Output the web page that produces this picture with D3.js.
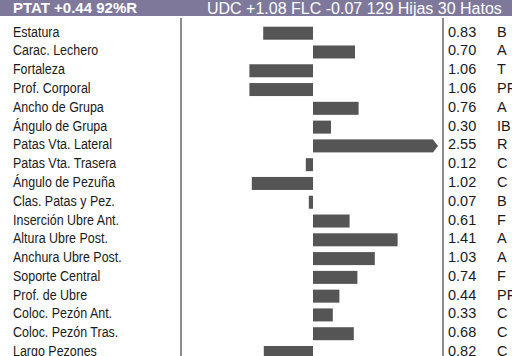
<!DOCTYPE html>
<html>
<head>
<meta charset="utf-8">
<script src="https://cdn.jsdelivr.net/npm/d3@7"></script>
<style>
  html, body { margin: 0; padding: 0; background: #fff; overflow: hidden; }
  svg { display: block; }
</style>
</head>
<body>
<svg id="chart" width="512" height="356"></svg>
<script>
// Linear type traits: signed deviation and classification code
const traits = [
  "Estatura", "Carac. Lechero", "Fortaleza", "Prof. Corporal", "Ancho de Grupa",
  "Ángulo de Grupa", "Patas Vta. Lateral", "Patas Vta. Trasera", "Ángulo de Pezuña",
  "Clas. Patas y Pez.", "Inserción Ubre Ant.", "Altura Ubre Post.", "Anchura Ubre Post.",
  "Soporte Central", "Prof. de Ubre", "Coloc. Pezón Ant.", "Coloc. Pezón Tras.", "Largo Pezones"
];
const values = [
  -0.83, 0.70, -1.06, -1.06, 0.76,
  0.30, 2.55, -0.12, -1.02,
  -0.07, 0.61, 1.41, 1.03,
  0.74, 0.44, 0.33, 0.68, -0.82
];
const codes = [
  "B", "A", "T", "PF", "A",
  "IB", "R", "C", "C",
  "B", "F", "A", "A",
  "F", "PF", "C", "C", "C"
];
const headerBold = "PTAT +0.44 92%R";
const headerRest = "UDC +1.08 FLC -0.07 129 Hijas 30 Hatos";

const W = 512, H = 356;
const svg = d3.select("#chart");
const font = "'Liberation Sans', Arial, Helvetica, sans-serif";
const ink = "#1a1a1a";

// Header band
svg.append("rect").attr("x", 0).attr("y", 0).attr("width", W).attr("height", 16)
  .attr("fill", "#7e799b");
svg.append("text").attr("x", 13).attr("y", 13)
  .attr("font-family", font).attr("font-size", 15).attr("font-weight", "bold")
  .attr("fill", "#fff").text(headerBold);
svg.append("text").attr("x", 207).attr("y", 13.5)
  .attr("font-family", font).attr("font-size", 16)
  .attr("fill", "#fff").text(headerRest);

// Scales
const x = d3.scaleLinear().domain([-2.2, 2.2]).range([181, 445]);
const y = d3.scalePoint().domain(traits).range([33.2, 352.5]);
const barH = 13;
const clampMax = 2.0; // bars beyond this are cut and capped with an arrow

const rows = traits.map((t, i) => ({ trait: t, value: values[i], code: codes[i] }));

// Column dividers
[181, 443].forEach(px => {
  svg.append("line").attr("x1", px).attr("x2", px).attr("y1", 18).attr("y2", H)
    .attr("stroke", "#8c8c8c").attr("stroke-width", 2);
});

// Trait names (slightly condensed face)
svg.append("g").attr("transform", "translate(13,0) scale(0.86,1)")
  .selectAll("text").data(rows).join("text")
  .attr("x", 0).attr("y", d => y(d.trait) + 3.5)
  .attr("font-family", font).attr("font-size", 14.5).attr("fill", ink)
  .text(d => d.trait);

// Bars
const bars = svg.append("g");
bars.selectAll("rect").data(rows).join("rect")
  .attr("x", d => x(Math.min(0, d.value)))
  .attr("width", d => Math.abs(x(Math.max(-clampMax, Math.min(clampMax, d.value))) - x(0)))
  .attr("y", d => y(d.trait) - barH / 2)
  .attr("height", barH)
  .attr("fill", "#555555");

// Arrow caps for clamped values
bars.selectAll("path").data(rows.filter(d => d.value > clampMax)).join("path")
  .attr("d", d => {
    const x0 = x(clampMax), cy = y(d.trait);
    return `M${x0},${cy - barH / 2}L${x0 + 5},${cy}L${x0},${cy + barH / 2}Z`;
  })
  .attr("fill", "#555555");

// Value and code columns
svg.append("g").selectAll("text").data(rows).join("text")
  .attr("x", 448).attr("y", d => y(d.trait) + 3.5)
  .attr("font-family", font).attr("font-size", 14.5).attr("fill", ink)
  .text(d => d3.format(".2f")(Math.abs(d.value)));
svg.append("g").selectAll("text").data(rows).join("text")
  .attr("x", 497).attr("y", d => y(d.trait) + 3.5)
  .attr("font-family", font).attr("font-size", 14.5).attr("fill", ink)
  .text(d => d.code);
</script>
</body>
</html>
